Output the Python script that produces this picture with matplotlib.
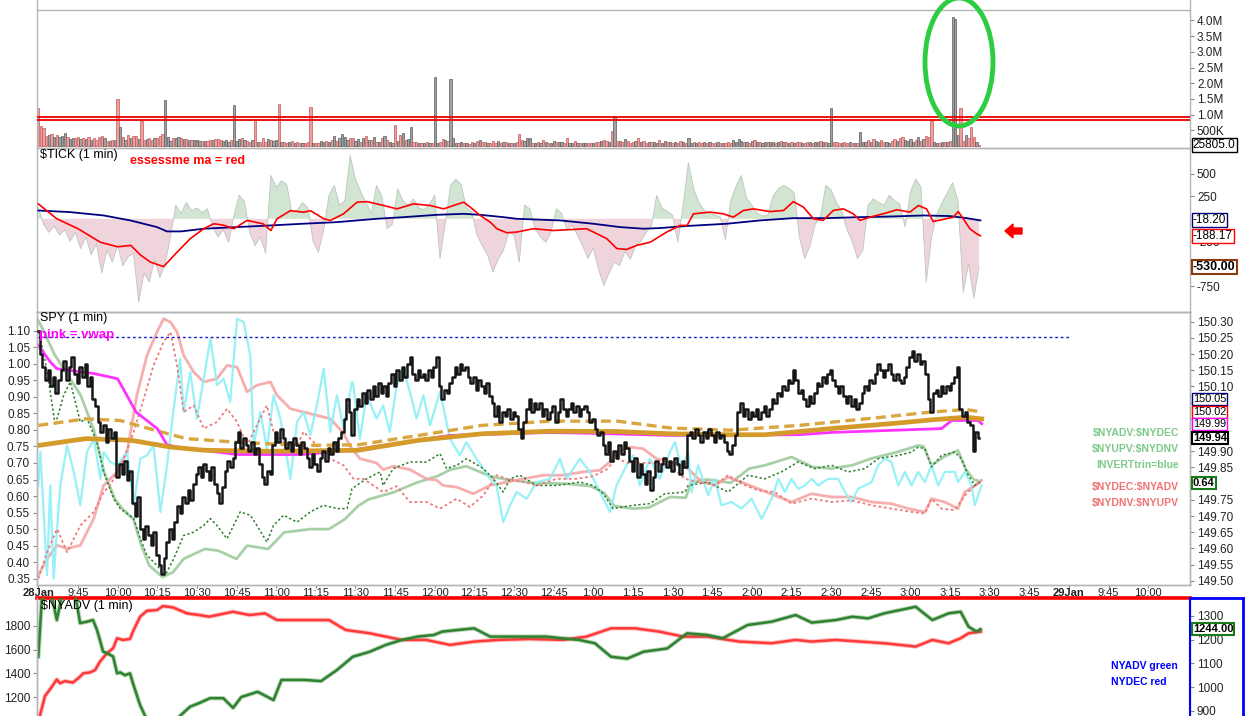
import numpy as np
import matplotlib
matplotlib.use("Agg")
import matplotlib.pyplot as plt
from matplotlib.patches import Ellipse, Polygon
from matplotlib.lines import Line2D
from matplotlib.transforms import blended_transform_factory as blend

plt.rcParams['font.family'] = ['Liberation Sans', 'DejaVu Sans']

# ---------------- DATA ----------------
# minutes since 9:30 on 28 Jan; ticks every 15 minutes
time_tick_labels = ["28Jan", "9:45", "10:00", "10:15", "10:30", "10:45", "11:00", "11:15",
                    "11:30", "11:45", "12:00", "12:15", "12:30", "12:45", "1:00", "1:15",
                    "1:30", "1:45", "2:00", "2:15", "2:30", "2:45", "3:00", "3:15", "3:30",
                    "3:45", "29Jan", "9:45", "10:00"]

spy_open = 150.30
spy_close = [
    150.27, 150.20, 150.16, 150.12, 150.15, 150.10, 150.13, 150.08, 150.12, 150.15,
    150.18, 150.12, 150.16, 150.19, 150.14, 150.11, 150.16, 150.13, 150.17, 150.10,
    150.13, 150.06, 150.04, 149.99, 149.96, 149.98, 149.93, 149.97, 149.94, 149.96,
    149.82, 149.86, 149.83, 149.87, 149.81, 149.84, 149.74, 149.70, 149.76, 149.66,
    149.63, 149.67, 149.64, 149.61, 149.65, 149.58, 149.55, 149.52, 149.57, 149.62,
    149.66, 149.63, 149.68, 149.73, 149.71, 149.76, 149.74, 149.78, 149.75, 149.80,
    149.83, 149.85, 149.82, 149.86, 149.84, 149.81, 149.85, 149.80, 149.77, 149.74,
    149.79, 149.84, 149.87, 149.85, 149.88, 149.93, 149.96, 149.91, 149.94, 149.92,
    149.90, 149.93, 149.89, 149.91, 149.86, 149.82, 149.80, 149.84, 149.83, 149.92,
    149.96, 149.93, 149.97, 149.94, 149.91, 149.93, 149.90, 149.94, 149.92, 149.89,
    149.93, 149.91, 149.88, 149.85, 149.89, 149.86, 149.84, 149.88, 149.90, 149.87,
    149.91, 149.89, 149.93, 149.90, 149.94, 149.96, 150.00, 150.06, 150.02, 149.95,
    150.03, 150.06, 150.04, 150.08, 150.05, 150.09, 150.06, 150.10, 150.07, 150.11,
    150.08, 150.10, 150.07, 150.11, 150.14, 150.10, 150.15, 150.12, 150.16, 150.13,
    150.17, 150.19, 150.14, 150.12, 150.15, 150.13, 150.14, 150.12, 150.15, 150.13,
    150.16, 150.19, 150.10, 150.06, 150.09, 150.08, 150.11, 150.13, 150.16, 150.14,
    150.17, 150.15, 150.16, 150.13, 150.11, 150.13, 150.09, 150.12, 150.10, 150.08,
    150.11, 150.07, 150.05, 150.01, 150.04, 149.99, 150.02, 150.01, 150.03, 150.00,
    150.02, 150.01, 149.97, 149.94, 149.99, 150.03, 150.06, 150.02, 150.05, 150.03,
    150.05, 150.01, 150.03, 150.00, 150.02, 150.04, 149.99, 150.02, 150.06, 150.03,
    150.01, 150.03, 150.05, 150.02, 150.04, 150.01, 150.03, 150.04, 150.02, 149.99,
    150.00, 149.97, 149.95, 149.96, 149.92, 149.89, 149.93, 149.87, 149.90, 149.88,
    149.92, 149.89, 149.93, 149.91, 149.87, 149.84, 149.88, 149.82, 149.86, 149.83,
    149.80, 149.84, 149.78, 149.82, 149.87, 149.84, 149.86, 149.88, 149.85, 149.87,
    149.84, 149.88, 149.86, 149.83, 149.87, 149.85, 149.95, 149.96, 149.94, 149.97,
    149.95, 149.93, 149.96, 149.94, 149.97, 149.95, 149.93, 149.96, 149.94, 149.95,
    149.93, 149.90, 149.89, 149.92, 149.95, 150.02, 150.05, 150.01, 150.03, 150.00,
    150.02, 150.01, 150.03, 150.00, 150.02, 150.04, 150.01, 150.03, 150.06, 150.05,
    150.08, 150.07, 150.10, 150.09, 150.12, 150.11, 150.15, 150.12, 150.08, 150.09,
    150.06, 150.04, 150.07, 150.05, 150.08, 150.11, 150.10, 150.13, 150.11, 150.14,
    150.15, 150.12, 150.10, 150.08, 150.10, 150.07, 150.05, 150.07, 150.04, 150.06,
    150.03, 150.05, 150.08, 150.10, 150.09, 150.12, 150.11, 150.14, 150.17, 150.15,
    150.13, 150.15, 150.17, 150.14, 150.12, 150.14, 150.12, 150.11, 150.13, 150.16,
    150.19, 150.21, 150.18, 150.20, 150.17, 150.18, 150.14, 150.06, 150.02, 150.08,
    150.09, 150.07, 150.10, 150.08, 150.10, 150.09, 150.11, 150.13, 150.16, 150.03,
    150.01, 150.02, 149.99, 149.98, 149.90, 149.96, 149.94]

# SPY volume per minute, thousands of shares
volume_k = [
    1220, 640, 560, 330, 360, 380, 300, 360, 280, 330,
    420, 300, 230, 260, 250, 300, 210, 270, 220, 300,
    200, 270, 180, 280, 310, 240, 170, 150, 190, 200,
    1500, 600, 280, 200, 350, 240, 320, 310, 220, 810,
    190, 230, 250, 200, 250, 270, 320, 380, 1450, 300,
    160, 270, 260, 280, 260, 230, 230, 200, 180, 200,
    180, 170, 150, 170, 160, 180, 200, 230, 230, 200,
    170, 190, 140, 180, 1320, 170, 220, 260, 200, 150,
    130, 190, 850, 120, 120, 260, 140, 220, 180, 150,
    200, 1350, 130, 120, 110, 120, 150, 110, 130, 110,
    100, 110, 130, 1250, 110, 100, 110, 150, 120, 150,
    140, 180, 320, 150, 240, 390, 300, 180, 250, 270,
    150, 220, 140, 250, 310, 190, 190, 280, 130, 140,
    270, 320, 180, 130, 110, 680, 160, 350, 420, 200,
    210, 610, 130, 120, 110, 90, 100, 120, 100, 110,
    2200, 110, 120, 210, 180, 170, 2150, 250, 110, 90,
    120, 90, 100, 70, 140, 110, 150, 180, 130, 130,
    110, 80, 150, 100, 160, 90, 120, 140, 110, 80,
    100, 120, 390, 190, 150, 260, 240, 110, 90, 130,
    110, 200, 130, 100, 90, 160, 120, 130, 140, 110,
    250, 80, 110, 150, 100, 110, 90, 80, 100, 90,
    80, 120, 140, 160, 200, 150, 130, 480, 970, 160,
    150, 140, 210, 170, 100, 130, 150, 250, 130, 160,
    110, 140, 120, 130, 110, 180, 90, 150, 120, 130,
    110, 130, 100, 150, 120, 90, 240, 110, 130, 90,
    130, 100, 120, 110, 130, 110, 100, 120, 110, 90,
    100, 120, 110, 190, 130, 230, 150, 120, 140, 110,
    160, 190, 140, 120, 110, 140, 130, 120, 130, 110,
    120, 160, 140, 130, 110, 140, 100, 120, 140, 110,
    100, 120, 140, 110, 130, 120, 160, 140, 120, 110,
    1200, 130, 120, 100, 110, 130, 100, 120, 90, 110,
    100, 450, 130, 120, 190, 140, 230, 160, 120, 200,
    140, 120, 110, 150, 220, 150, 250, 300, 190, 160,
    230, 140, 190, 280, 150, 230, 330, 300, 810, 120,
    100, 110, 120, 130, 140, 160, 4100, 4050, 360, 1200,
    160, 360, 270, 600, 300, 120, 26]
volume_levels_k = [914, 830]

# $TICK, one reading every 2 minutes
tick_vals = [
    120, -60, -150, -80, -180, -120, -250, -150, -330, -200,
    -400, -280, -600, -350, -480, -300, -520, -420, -380, -920,
    -600, -700, -450, -650, -500, -200, 150, 60, 180, 90,
    120, 70, 110, -90, -200, -120, -260, 30, 260, 190,
    -150, -300, -200, -380, 480, 350, 420, 380, 60, 100,
    180, 120, -250, -370, -120, 260, 370, 150, 200, 700,
    440, 300, 180, 60, 370, 250, -110, -60, 330, 200,
    150, 220, 120, 100, 160, 260, -440, -50, 370, 440,
    380, 120, 80, -180, -300, -400, -590, -450, -350, -150,
    -180, -480, 150, 110, -110, -200, -260, -150, 110, 60,
    -120, -70, -180, -300, -440, -320, -560, -740, -600, -480,
    -520, -360, -450, -300, -250, -150, -80, 260, 120, 80,
    40, -260, 150, 620, 330, 180, 90, 60, 40, 20,
    -230, 200, 360, 480, 230, 150, 60, 30, 40, 250,
    330, 370, 340, 290, -200, -440, -300, -60, 30, 370,
    320, 180, 90, -120, -250, -440, -350, 150, 220, 180,
    150, 260, 200, 160, -90, 300, 440, 350, -700, -200,
    50, 180, 290, 400, 200, -810, -500, -880, -530]

# (minute, value) pairs
tick_ma_red = [(0, 165), (7, 0), (15, -110), (23.5, -260), (30, -310), (35, -295), (38.6, -400),
               (42.4, -480), (47.4, -530), (52.5, -370), (57.5, -220), (62.6, -110), (66.4, -55),
               (70, -70), (74, -110), (79, -18), (85, -55), (88, -130), (90.3, 0), (95.4, 90),
               (100.4, 73), (103, 90), (108, 0), (110.5, -18), (115.5, 55), (120.6, 184),
               (124.4, 190), (130.7, 147), (135.7, 110), (142, 165), (148.3, 147), (153.4, 110),
               (157.1, 147), (161, 184), (163.4, 130), (167.2, 37), (171, -37), (173.5, -110),
               (177.3, -155), (181, -147), (187.3, -110), (194.9, -130), (207.5, -110),
               (215.1, -220), (218.9, -330), (222.6, -340), (226.4, -295), (231.5, -260),
               (237.8, -147), (242.8, -74), (245.5, -74), (247.9, 55), (254.2, 74), (259.2, 55),
               (263, 18), (266.8, 92), (270.6, 110), (276.9, 80), (282, 92), (285.7, 190),
               (289.5, 130), (293.3, 0), (297, -18), (300.8, 92), (304.6, 110), (308.4, 55),
               (310.9, -18), (314.7, 18), (321, 66), (324.8, 100), (329.8, 74), (333, 147),
               (336.1, 110), (338.6, -30), (342.4, -7), (346.2, 18), (348.1, 80), (350, 0),
               (352.5, -110), (355, -165), (356.5, -188)]
tick_ma_blue = [(0, 92), (12, 74), (24.7, 37), (34.8, -18), (44.9, -92), (48.7, -140), (54, -140),
                (62.6, -110), (75, -92), (87.8, -74), (100, -55), (113, -37), (120.6, -18),
                (128, 0), (138.2, 18), (150.8, 44), (161, 55), (167.2, 44), (176, 18), (181, 0),
                (197.4, -18), (210, -55), (220.1, -92), (229, -110), (235.2, -103), (245.3, -80),
                (260.5, -55), (273.1, -18), (285.7, 7), (298, 7), (310.9, 18), (323.5, 26),
                (334.9, 37), (345, 30), (351.3, 7), (356.5, -18)]

vwap = [(0, 150.227), (4.5, 150.176), (7, 150.155), (21, 150.14), (30, 150.124), (37, 150.021),
        (45, 149.97), (48.7, 149.92), (52.5, 149.913), (62.6, 149.903), (75.2, 149.89),
        (100, 149.89), (118, 149.903), (155.8, 149.949), (193.6, 149.958), (211.3, 149.955),
        (239, 149.949), (287.5, 149.951), (300, 149.958), (341.8, 149.97), (345.6, 149.995),
        (355.6, 149.995), (357, 149.985)]
ma_solid = [(0, 149.918), (18, 149.939), (35, 149.934), (50, 149.913), (63, 149.903), (88, 149.90),
            (121, 149.903), (144, 149.934), (168, 149.954), (194, 149.962), (219, 149.961),
            (239, 149.954), (262, 149.951), (275, 149.951), (300, 149.970), (325, 149.987),
            (338, 149.997), (351, 150.005), (357, 150.0)]
ma_dashed = [(0, 149.98), (18, 150.0), (31, 149.995), (44, 149.965), (56, 149.939), (75, 149.928),
             (100, 149.918), (121, 149.92), (144, 149.949), (168, 149.98), (194, 149.993),
             (219, 149.993), (239, 149.972), (262, 149.965), (288, 149.98), (313, 150.0),
             (338, 150.021), (351, 150.029), (357, 150.021)]
prior_level = 150.252

adv_dec_ratio = [(0, 1.13), (2, 1.10), (6, 1.03), (12, 0.955), (16, 0.905), (21, 0.80), (25, 0.67),
                 (29, 0.59), (32, 0.56), (36, 0.53), (39, 0.45), (42, 0.39), (47, 0.355), (51, 0.37),
                 (55, 0.41), (63, 0.44), (68, 0.435), (75, 0.41), (79, 0.45), (87, 0.44), (93, 0.49),
                 (103, 0.50), (110, 0.50), (116, 0.53), (121, 0.57), (125, 0.59), (134, 0.61),
                 (143, 0.64), (151, 0.66), (156, 0.68), (162, 0.69), (171, 0.66), (177, 0.65),
                 (187, 0.64), (200, 0.637), (209, 0.63), (214, 0.61), (218, 0.57), (225, 0.562),
                 (231, 0.565), (239, 0.597), (245, 0.595), (247, 0.64), (253, 0.65), (262, 0.64),
                 (269, 0.683), (275, 0.693), (285, 0.718), (293, 0.688), (300, 0.683), (308, 0.693),
                 (315, 0.713), (325, 0.733), (333, 0.753), (335, 0.75), (338, 0.693), (343, 0.72),
                 (348, 0.738), (351, 0.68), (354, 0.65), (356, 0.645)]
upv_dnv_ratio = [(0, 1.096), (2, 1.036), (4.5, 0.915), (6.4, 0.814), (9.6, 0.905), (12.1, 0.945),
                 (15.9, 0.824), (18.4, 0.834), (22.2, 0.763), (24.7, 0.673), (28.5, 0.592),
                 (31, 0.562), (36.1, 0.532), (38.6, 0.471), (41.1, 0.421), (44.9, 0.39), (48, 0.36),
                 (51.2, 0.41), (55, 0.481), (58.8, 0.491), (62.6, 0.511), (65.1, 0.532),
                 (67.6, 0.511), (71.4, 0.471), (76.4, 0.552), (80.2, 0.542), (82.7, 0.511),
                 (86.5, 0.461), (89, 0.511), (92.8, 0.542), (97.9, 0.521), (102.9, 0.552),
                 (107.9, 0.572), (113, 0.562), (116.8, 0.562), (118.7, 0.622), (120.4, 0.632),
                 (124.2, 0.652), (129.3, 0.673), (130.5, 0.632), (134.3, 0.683), (140.6, 0.703),
                 (146.9, 0.703), (152, 0.728), (154.5, 0.683), (158.3, 0.693), (162.1, 0.713),
                 (168.4, 0.683), (172.2, 0.652), (175.9, 0.612), (178.5, 0.652), (182.2, 0.663),
                 (188.5, 0.632), (196.1, 0.632), (204.9, 0.642), (210, 0.632), (213.8, 0.607),
                 (217.5, 0.562), (225.1, 0.572), (231.4, 0.577), (237.1, 0.607), (244.7, 0.612),
                 (245.9, 0.632), (253.5, 0.642), (261, 0.612), (268.6, 0.663), (274.9, 0.652),
                 (281.2, 0.673), (287.5, 0.703), (293.8, 0.683), (300.2, 0.693), (306.5, 0.673),
                 (312.8, 0.683), (317.8, 0.713), (325.4, 0.723), (330.4, 0.733), (333, 0.748),
                 (335.5, 0.743), (338, 0.688), (341.8, 0.723), (346.8, 0.733), (349.3, 0.713),
                 (351.9, 0.663), (354.4, 0.632), (356.5, 0.642)]
dec_adv_ratio = [(0, 0.36), (3.3, 0.41), (7.1, 0.451), (10.9, 0.441), (15.9, 0.451), (21, 0.532),
                 (24.7, 0.632), (29.8, 0.673), (33.6, 0.733), (37.3, 0.905), (41.1, 1.025),
                 (44.9, 1.096), (47.4, 1.136), (50, 1.126), (52.5, 1.096), (55, 1.025),
                 (58.8, 0.975), (62.6, 0.945), (67.6, 0.955), (71.4, 0.995), (75.2, 0.99),
                 (79, 0.915), (82.7, 0.935), (87.8, 0.945), (90.3, 0.905), (95.4, 0.864),
                 (100.4, 0.854), (105.4, 0.844), (110.5, 0.834), (115.5, 0.79), (118, 0.75),
                 (121.7, 0.713), (128, 0.70), (130.5, 0.68), (134.3, 0.69), (140.6, 0.68),
                 (146.9, 0.652), (150.7, 0.648), (153.2, 0.632), (158.3, 0.627), (164.6, 0.607),
                 (170.9, 0.632), (177.2, 0.642), (183.5, 0.652), (191.1, 0.663), (198.6, 0.663),
                 (206.2, 0.673), (212.5, 0.678), (216.3, 0.703), (218.8, 0.733), (223.9, 0.748),
                 (228.9, 0.743), (233.9, 0.713), (239, 0.703), (242.1, 0.693), (245.9, 0.683),
                 (249.7, 0.652), (256, 0.632), (261, 0.657), (266.1, 0.642), (272.4, 0.622),
                 (278.7, 0.602), (285, 0.582), (292.6, 0.607), (300.2, 0.597), (307.7, 0.597),
                 (315.3, 0.582), (322.8, 0.577), (329.2, 0.562), (335.5, 0.552), (338, 0.592),
                 (343, 0.582), (348, 0.562), (350.6, 0.612), (354.4, 0.632), (356.9, 0.648)]
dnv_upv_ratio = [(0, 0.35), (3.3, 0.43), (7.1, 0.50), (10.9, 0.43), (15.9, 0.511), (21, 0.552),
                 (24.7, 0.612), (27.2, 0.632), (32.3, 0.713), (36.1, 0.794), (39.9, 0.894),
                 (43.6, 0.995), (47.4, 1.066), (50, 1.096), (52.5, 0.995), (55, 0.854),
                 (58.8, 0.874), (62.6, 0.804), (67.6, 0.824), (71.4, 0.864), (75.2, 0.824),
                 (79, 0.753), (82.7, 0.814), (86.5, 0.874), (89, 0.794), (92.8, 0.763),
                 (97.9, 0.753), (100.4, 0.794), (105.4, 0.753), (110.5, 0.713), (115.5, 0.693),
                 (119.3, 0.652), (123, 0.652), (130.5, 0.612), (135.6, 0.63), (140.6, 0.582),
                 (146.9, 0.582), (152, 0.562), (158.3, 0.592), (163.3, 0.567), (168.4, 0.602),
                 (173.4, 0.663), (177.2, 0.652), (183.5, 0.643), (188.5, 0.632), (196.1, 0.652),
                 (203.7, 0.652), (210, 0.66), (215, 0.68), (218.8, 0.713), (223.9, 0.698),
                 (227.6, 0.70), (233.9, 0.70), (239, 0.693), (244.7, 0.652), (249.7, 0.643),
                 (256, 0.632), (261, 0.663), (266.1, 0.637), (272.4, 0.617), (278.7, 0.612),
                 (285, 0.577), (292.6, 0.592), (300.2, 0.582), (307.7, 0.587), (315.3, 0.572),
                 (322.8, 0.562), (330.4, 0.552), (335.5, 0.547), (338, 0.592), (341.8, 0.562),
                 (346.8, 0.557), (350.6, 0.602), (354.4, 0.632), (356.9, 0.643)]
invert_trin = [(0, 0.632), (0.8, 0.733), (2.0, 0.552), (3.3, 0.36), (4.5, 0.632), (5.8, 0.35),
               (7.1, 0.501), (8.3, 0.632), (10.9, 0.753), (13.4, 0.673), (15.9, 0.572),
               (18.4, 0.733), (21, 0.773), (23.5, 0.652), (24.7, 0.733), (27.2, 0.703),
               (29.8, 0.693), (33.6, 0.733), (36.1, 0.572), (38.6, 0.713), (41.1, 0.723),
               (43.6, 0.753), (46.2, 0.552), (48.7, 0.693), (51.2, 0.864), (53.7, 1.015),
               (55, 0.854), (57.5, 0.975), (60, 0.834), (62.6, 0.955), (65.1, 1.076),
               (67.6, 0.935), (70.1, 0.955), (72.6, 0.884), (75.2, 1.136), (77.7, 1.126),
               (80.2, 1.025), (81.5, 0.753), (84, 0.854), (86.5, 0.743), (89, 0.905),
               (91.6, 0.834), (95.4, 0.652), (97.9, 0.824), (100.4, 0.854), (102.9, 0.784),
               (105.4, 0.874), (108, 0.985), (110.5, 0.794), (113, 0.905), (115.5, 0.804),
               (118.7, 0.945), (119.2, 0.935), (121.7, 0.773), (124.2, 0.905), (128, 0.834),
               (130.5, 0.874), (133, 0.794), (135.6, 0.935), (138.1, 0.985), (140.6, 0.915),
               (143.1, 0.834), (145.7, 0.905), (148.2, 0.814), (152, 0.915), (155.8, 0.773),
               (159.5, 0.723), (162, 0.763), (165.8, 0.713), (170.9, 0.652), (173.4, 0.632),
               (175.9, 0.521), (178.5, 0.572), (181, 0.612), (184.8, 0.592), (188.5, 0.642),
               (193.6, 0.652), (197.4, 0.713), (199.9, 0.652), (204.9, 0.713), (208.7, 0.673),
               (212.5, 0.612), (216.3, 0.552), (218.8, 0.632), (222.6, 0.693), (225.1, 0.723),
               (227.6, 0.632), (231.4, 0.713), (235.2, 0.652), (239, 0.733), (240.9, 0.763),
               (243.4, 0.683), (245.9, 0.733), (247.2, 0.612), (249.7, 0.693), (253.5, 0.602),
               (256, 0.652), (258.5, 0.572), (262.3, 0.582), (266.1, 0.562), (269.9, 0.592),
               (273.7, 0.531), (277.5, 0.592), (280, 0.652), (282.5, 0.612), (285, 0.652),
               (287.5, 0.622), (290.1, 0.632), (292.6, 0.652), (295.1, 0.632), (298.9, 0.652),
               (302.7, 0.652), (305.2, 0.612), (307.7, 0.582), (310.2, 0.622), (312.8, 0.632),
               (315.3, 0.642), (317.8, 0.693), (320.3, 0.713), (322.8, 0.703), (325.4, 0.632),
               (327.9, 0.673), (330.4, 0.632), (332.9, 0.673), (335.5, 0.642), (338, 0.693),
               (340.5, 0.632), (343, 0.673), (346.8, 0.673), (348.1, 0.642), (350.6, 0.673),
               (353.1, 0.632), (354.4, 0.572), (356.9, 0.632)]

nyadv = [(0, 1128), (1.3, 1367), (3, 1390), (5, 1390), (7, 1283), (9, 1390), (14, 1390),
         (15.8, 1270), (18.4, 1276), (20.7, 1283), (22.2, 1241), (23.3, 1199), (24.5, 1150),
         (26, 1143), (28.3, 1129), (29.8, 1058), (31, 1062), (32.8, 1050), (34.7, 1058),
         (35.8, 1016), (38.5, 924), (40.4, 878), (45, 820), (50, 810), (53.6, 878), (57.4, 917),
         (61, 933), (65, 953), (70, 953), (73.7, 912), (76.8, 958), (83, 980), (89, 945),
         (92, 1030), (101, 1030), (107, 1025), (113, 1072), (119, 1128), (125.4, 1149),
         (131.5, 1178), (137.6, 1199), (143.6, 1213), (149.7, 1220), (152.8, 1234),
         (158.8, 1241), (164.9, 1248), (171, 1213), (180, 1213), (192, 1213), (204.5, 1199),
         (210.6, 1185), (216.7, 1128), (222.8, 1120), (229, 1149), (238, 1163), (245.5, 1227),
         (253, 1220), (259, 1206), (268.4, 1262), (277.5, 1276), (286.6, 1304), (292.7, 1272),
         (301.8, 1283), (308, 1297), (314, 1290), (320, 1311), (326, 1325), (332, 1339),
         (338.3, 1283), (344.4, 1311), (349, 1318), (352, 1255), (355, 1234), (356.5, 1244)]
nydec = [(0.6, 878), (2.5, 962), (4.4, 990), (7, 1032), (8.2, 1016), (10.1, 1025), (13.1, 1019),
         (15.8, 1044), (17, 1058), (19.6, 1062), (21.5, 1072), (23.3, 1107), (26, 1143),
         (28.3, 1164), (29.8, 1206), (32, 1199), (34.7, 1203), (35.8, 1234), (38.5, 1297),
         (41.1, 1322), (44.9, 1325), (47.2, 1342), (51, 1336), (56.3, 1311), (61, 1304),
         (64.6, 1297), (73.7, 1318), (79.8, 1304), (85.8, 1311), (90.3, 1283), (101, 1283),
         (110, 1283), (116.3, 1241), (125.4, 1227), (137.6, 1199), (146.7, 1199), (155.8, 1178),
         (165, 1192), (174, 1199), (186, 1203), (198.4, 1199), (207.5, 1213), (216.7, 1248),
         (225.8, 1248), (235, 1234), (244, 1213), (253, 1213), (265.3, 1192), (277.5, 1185),
         (286.6, 1199), (292.7, 1192), (301.8, 1199), (311, 1192), (320, 1185), (332, 1171),
         (338.3, 1199), (344.4, 1185), (349, 1206), (352, 1227), (356.6, 1234)]

# ---------------- LAYOUT HELPERS ----------------
W, H = 1260, 716
fig = plt.figure(figsize=(W / 100, H / 100), dpi=100)
fig.patch.set_facecolor('white')


def rect(l, t, r, b):
    return [l / W, 1 - b / H, (r - l) / W, (b - t) / H]


def fpt(x, y):
    return (x / W, 1 - y / H)


def xy(pairs):
    a = np.array(pairs, dtype=float)
    return a[:, 0], a[:, 1]


XL, XR = 37, 1190
XLIM = (-0.5, 435.8)
GRAY = '#b5b5b5'


def style(ax):
    ax.set_xlim(*XLIM)
    ax.set_facecolor('none')
    for s in ax.spines.values():
        s.set_color(GRAY)
        s.set_linewidth(1.0)
    ax.tick_params(axis='both', which='both', direction='out', length=3, width=0.8,
                   colors='#888888', labelcolor='#222222', labelsize=8.5, pad=2)


def tag(ax, yval, text, ec, bold=False, color='black', lw=1.0, trans=None, size=8):
    tr = trans if trans is not None else ax.get_yaxis_transform()
    ax.text(1.0025, yval, text, transform=tr, ha='left', va='center', fontsize=size,
            color=color, fontweight='bold' if bold else 'normal', zorder=20, clip_on=False,
            bbox=dict(boxstyle='square,pad=0.08', fc='white', ec=ec, lw=lw))


t_min = np.arange(len(spy_close))
spy = np.array(spy_close)
prev = np.concatenate([[spy_open], spy[:-1]])
up = spy >= prev

# ---------------- VOLUME ----------------
ax_vol = fig.add_axes(rect(XL, 10, XR, 147.5))
style(ax_vol)
ax_vol.bar(t_min, volume_k, width=0.85,
           color=np.where(up, '#a2a2a2', '#e9a0a0'),
           edgecolor=np.where(up, '#5a5a5a', '#c75858'), linewidth=0.5, zorder=2)
for lv in volume_levels_k:
    ax_vol.axhline(lv, color='#ee0000', lw=1.3, zorder=3)
ax_vol.set_ylim(-48, 4333)
ax_vol.yaxis.tick_right()
vt = [500, 1000, 1500, 2000, 2500, 3000, 3500, 4000]
ax_vol.set_yticks(vt)
ax_vol.set_yticklabels(['500K'] + ['%.1fM' % (v / 1000) for v in vt[1:]])
ax_vol.set_xticks([])
tag(ax_vol, 40, '25805.0', 'black', size=8.5)

# ---------------- TICK ----------------
ax_tick = fig.add_axes(rect(XL, 147.5, XR, 312))
style(ax_tick)
tt = np.arange(len(tick_vals)) * 2
tv = np.array(tick_vals, dtype=float)
ax_tick.fill_between(tt, tv, 0, where=tv >= 0, interpolate=True, color='#d2e4d2', lw=0, zorder=1)
ax_tick.fill_between(tt, tv, 0, where=tv <= 0, interpolate=True, color='#efd4dc', lw=0, zorder=1)
ax_tick.plot(tt, tv, color='#bcc6bc', lw=0.6, zorder=2)
bt, bv = xy(tick_ma_blue)
ax_tick.plot(bt, bv, color='#000080', lw=1.3, zorder=3)
rt, rv = xy(tick_ma_red)
ax_tick.plot(rt, rv, color='#ff0000', lw=1.2, zorder=4)
ax_tick.set_ylim(-1033, 790)
ax_tick.yaxis.tick_right()
ax_tick.set_yticks([500, 250, -250, -750])
ax_tick.set_yticklabels(['500', '250', '-250', '-750'])
ax_tick.set_xticks([])
tag(ax_tick, -18.2, '-18.20', '#000080', size=8.5)
tag(ax_tick, -188.17, '-188.17', '#ff0000', size=8.5)
tag(ax_tick, -530, '-530.00', '#8b3a10', bold=True, lw=1.5, size=9)

# ---------------- SPY ----------------
ax_ratio = fig.add_axes(rect(XL, 312, XR, 585))
style(ax_ratio)
ax_ratio.set_ylim(0.331, 1.1565)
ax_ratio.set_yticks(np.round(np.arange(0.35, 1.101, 0.05), 2))
ax_ratio.set_yticklabels(['%.2f' % v for v in np.arange(0.35, 1.101, 0.05)])
ax_ratio.set_xticks(np.arange(0, 421, 15))
ax_ratio.set_xticklabels(time_tick_labels)
ax_ratio.tick_params(axis='x', labelsize=8, pad=0.5, length=2)
for lab in ax_ratio.get_xticklabels():
    if 'Jan' in lab.get_text():
        lab.set_fontweight('bold')

for pairs, col, lw, ls, al in [
        (adv_dec_ratio, '#98c898', 2.0, '-', 0.85),
        (dec_adv_ratio, '#f5a5a5', 2.0, '-', 0.9),
        (invert_trin, '#8cf0f6', 1.6, '-', 0.9),
        (upv_dnv_ratio, '#2e7d2e', 1.1, (0, (1.5, 1.5)), 1.0),
        (dnv_upv_ratio, '#ef7a7a', 1.3, (0, (1.5, 1.5)), 1.0)]:
    a, b = xy(pairs)
    ax_ratio.plot(a, b, color=col, lw=lw, ls=ls, alpha=al)

ax_px = ax_ratio.twinx()
style(ax_px)
ax_px.set_ylim(149.487, 150.33)
pt = np.round(np.arange(149.50, 150.301, 0.05), 2)
hidden = {150.05, 150.00, 149.95, 149.80}
ax_px.set_yticks(pt)
ax_px.set_yticklabels(['' if round(v, 2) in hidden else '%.2f' % v for v in pt])
ax_px.plot([0, 390], [prior_level, prior_level], color='#1a1acc', lw=1.0, ls=(0, (2, 2)))
a, b = xy(ma_dashed)
ax_px.plot(a, b, color='#d9a640', lw=2.4, ls=(0, (3, 1.6)))
a, b = xy(vwap)
ax_px.plot(a, b, color='#ff33ff', lw=2.0)
a, b = xy(ma_solid)
ax_px.plot(a, b, color='#d49a2a', lw=3.4)
ax_px.step(t_min, spy, where='mid', color='#161616', lw=1.8, zorder=6)

tag(ax_px, 150.061, '150.05', '#000080', size=7.8)
tag(ax_px, 150.022, '150.02', '#ff0000', size=7.8)
tag(ax_px, 149.984, '149.99', '#ff00ff', size=7.8)
tag(ax_px, 149.94, '149.94', 'black', bold=True, lw=1.5, size=8)
tag(ax_px, 0.64, '0.64', '#1a7a1a', bold=True, lw=1.5, size=8,
    trans=blend(ax_px.transAxes, ax_ratio.transData))

# ---------------- NYADV / NYDEC ----------------
ax_nyl = fig.add_axes(rect(XL, 598, XR, 760))
style(ax_nyl)
ax_nyl.set_ylim(671, 2033)
ax_nyl.set_yticks([1200, 1400, 1600, 1800])
ax_nyl.set_xticks([])
ax_nyl.spines['top'].set_color('#ff0000')
ax_nyl.spines['top'].set_linewidth(2.6)
ax_ny = ax_nyl.twinx()
style(ax_ny)
ax_ny.spines['top'].set_visible(False)
ax_ny.spines['right'].set_color('#0000ff')
ax_ny.spines['right'].set_linewidth(1.5)
ax_ny.set_ylim(692, 1376)
ax_ny.set_yticks([900, 1000, 1100, 1200, 1300])
a, b = xy(nydec)
ax_ny.plot(a, b, color='#ff4d4d', lw=3.2, alpha=0.35)
ax_ny.plot(a, b, color='#ff3a3a', lw=1.8)
a, b = xy(nyadv)
ax_ny.plot(a, b, color='#3c8c3c', lw=3.2, alpha=0.35)
ax_ny.plot(a, b, color='#2f822f', lw=1.8)
tag(ax_ny, 1244, '1244.00', '#1a7a1a', bold=True, lw=1.5, size=8)

# ---------------- TEXT LABELS ----------------
fig.text(*fpt(40, 155), '$TICK (1 min)', fontsize=9, va='center', parse_math=False)
fig.text(*fpt(130, 161), 'essessme ma = red', fontsize=9, va='center', color='#ff0000',
         fontweight='bold', parse_math=False)
fig.text(*fpt(40, 318), 'SPY (1 min)', fontsize=9, va='center', parse_math=False)
fig.text(*fpt(39, 335), 'pink = vwap', fontsize=9.5, va='center', color='#ff00ff',
         fontweight='bold', parse_math=False)
fig.text(*fpt(41, 606), '$NYADV (1 min)', fontsize=9, va='center', parse_math=False)

for txt, y, col in [('$NYADV:$NYDEC', 433, '#7cc98a'), ('$NYUPV:$NYDNV', 449, '#7cc98a'),
                    ('INVERTtrin=blue', 465, '#7cc98a'), ('$NYDEC:$NYADV', 487, '#f07272'),
                    ('$NYDNV:$NYUPV', 503, '#f07272')]:
    fig.text(*fpt(1179, y), txt, fontsize=7.5, ha='right', va='center', color=col,
             fontweight='bold', parse_math=False)

fig.text(*fpt(1111, 666), 'NYADV green', fontsize=7.5, va='center', color='#0000ff',
         fontweight='bold')
fig.text(*fpt(1111, 682), 'NYDEC red', fontsize=7.5, va='center', color='#0000ff',
         fontweight='bold')

# ---------------- OVERLAYS ----------------
for (x0, y0), (x1, y1), c, lw in [((XL, 0), (XL, 10), GRAY, 1.0), ((XR, 0), (XR, 10), GRAY, 1.0),
                                  ((XR, 598), (1243, 598), '#0000ff', 2.0),
                                  ((1243, 598), (1243, 716), '#0000ff', 2.0)]:
    p0, p1 = fpt(x0, y0), fpt(x1, y1)
    fig.add_artist(Line2D([p0[0], p1[0]], [p0[1], p1[1]], color=c, lw=lw,
                          transform=fig.transFigure))

fig.add_artist(Ellipse(fpt(959, 62), 68 / W, 128 / H, transform=fig.transFigure,
                       fill=False, ec='#2ecc40', lw=3.5, zorder=30))

arrow_px = [(1005, 231), (1013, 224), (1013, 228), (1022, 228), (1022, 234), (1013, 234),
            (1013, 238)]
fig.add_artist(Polygon([fpt(x, y) for x, y in arrow_px], closed=True, fc='#ff0000',
                       ec='#ff0000', transform=fig.transFigure, zorder=30))

fig.savefig('out.png', dpi=100)
